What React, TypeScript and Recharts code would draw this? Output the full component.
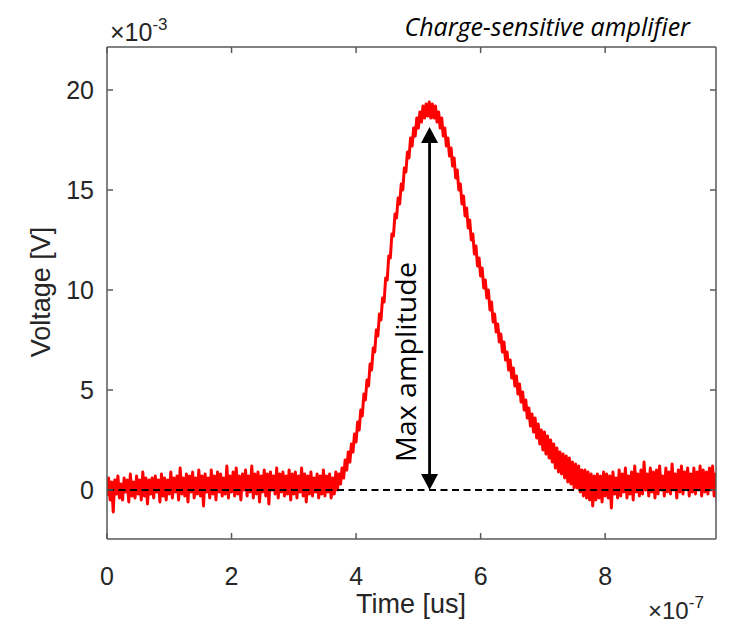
import React from "react";
import {
  LineChart,
  Line,
  XAxis,
  YAxis,
  ReferenceLine,
  ReferenceDot,
} from "recharts";

// time in units of 1e-7 s, voltage in units of 1e-3 V
const T_STEP = 0.025;
const X_TICKS = [0, 2, 4, 6, 8];
const Y_TICKS = [0, 5, 10, 15, 20];
const X_DOMAIN = [0, 9.78];
const Y_DOMAIN = [-2.45, 22.15];

// baseline before the pulse, 0 .. 3.725
const preVoltage = [
  -0.3, 0.6, -0.5, 0.4, -1.1, 0.5, -0.2, 0.7, -0.4, 0.3,
  -0.5, 0.6, -0.1, 0.5, -0.6, 0.8, -0.3, 0.4, -0.4, 0.7,
  -0.2, 0.5, -0.5, 0.9, -0.3, 0.6, -0.7, 0.5, -0.2, 0.6,
  -0.4, 0.7, -0.1, 0.5, -0.6, 0.8, -0.3, 0.6, -0.5, 0.5,
  -0.2, 0.9, -0.4, 0.6, -0.1, 0.7, -0.5, 1.1, -0.2, 0.6,
  -0.3, 0.8, -0.6, 0.7, -0.1, 0.9, -0.4, 0.6, -0.2, 1.0,
  -0.3, 0.7, -0.8, 0.8, -0.1, 0.6, -0.4, 1.0, -0.2, 0.7,
  -0.5, 0.9, -0.1, 0.8, -0.3, 0.6, -0.2, 1.2, -0.4, 0.7,
  -0.1, 0.9, -0.3, 1.1, -0.2, 0.7, -0.5, 0.8, 0.0, 1.0,
  -0.3, 0.7, -0.1, 1.2, -0.4, 0.8, -0.2, 0.9, -0.6, 0.7,
  -0.1, 1.0, -0.3, 0.8, -0.7, 0.9, 0.0, 0.7, -0.2, 1.1,
  -0.4, 0.8, -0.1, 0.9, -0.3, 0.7, -0.2, 1.0, -0.5, 0.8,
  -0.2, 0.9, -0.4, 0.7, -0.1, 1.1, -0.3, 0.8, -0.6, 0.7,
  -0.2, 0.9, -0.3, 0.6, -0.1, 0.8, -0.4, 0.7, -0.2, 1.0,
  -0.3, 0.7, -0.1, 0.8, -0.4, 0.6, -0.2, 0.9, 0.0, 0.8,
];

// the pulse, 3.75 .. 8.0
const pulseVoltage = [
  0.3, 1.1, 0.6, 1.5, 1.0, 1.9, 1.4, 2.3, 1.9, 2.8,
  2.4, 3.4, 3.0, 4.0, 3.7, 4.8, 4.5, 5.5, 5.2, 6.3,
  6.0, 7.1, 6.9, 8.0, 7.7, 8.8, 8.5, 9.6, 9.4, 10.6,
  10.5, 11.7, 11.6, 12.8, 12.7, 13.8, 13.6, 14.6, 14.3, 15.3,
  15.0, 16.1, 15.9, 16.9, 16.6, 17.6, 17.2, 18.1, 17.7, 18.6,
  18.1, 18.9, 18.4, 19.2, 18.6, 19.3, 18.7, 19.4, 18.6, 19.3,
  18.6, 19.2, 18.4, 18.9, 18.1, 18.6, 17.7, 18.1, 17.2, 17.6,
  16.7, 17.1, 16.2, 16.6, 15.6, 16.0, 15.0, 15.3, 14.3, 14.7,
  13.7, 14.1, 13.1, 13.5, 12.5, 12.8, 11.8, 12.2, 11.2, 11.6,
  10.7, 11.1, 10.1, 10.5, 9.6, 10.0, 9.0, 9.4, 8.4, 8.8,
  7.9, 8.3, 7.4, 7.8, 6.9, 7.4, 6.5, 6.9, 6.0, 6.5,
  5.6, 6.1, 5.2, 5.7, 4.8, 5.3, 4.4, 4.9, 4.0, 4.5,
  3.6, 4.1, 3.2, 3.8, 2.9, 3.6, 2.6, 3.3, 2.3, 3.0,
  2.0, 2.9, 1.8, 2.7, 1.6, 2.5, 1.4, 2.3, 1.1, 2.1,
  0.9, 1.9, 0.8, 1.8, 0.6, 1.7, 0.4, 1.6, 0.3, 1.4,
  0.1, 1.3, 0.1, 1.2, -0.1, 1.0, -0.3, 1.0, -0.4, 0.9,
  -0.5, 0.8, -0.8, 0.7, -0.5, 0.8, -0.4, 0.7, -0.6, 0.9,
  -0.3,
];

// baseline after the pulse, 8.025 .. 9.8
const postVoltage = [
  0.8, -0.4, 0.7, -0.9, 0.9, -0.2, 0.6, -0.4,
  1.0, -0.3, 0.8, -0.1, 1.1, -0.4, 0.7, -0.2,
  0.9, -0.5, 1.2, -0.1, 0.8, -0.3, 1.0, -0.2,
  1.4, 0.0, 0.8, -0.3, 1.1, -0.1, 0.9, -0.4,
  1.0, -0.2, 1.2, 0.0, 0.7, -0.3, 1.1, -0.1,
  0.9, -0.2, 1.3, 0.0, 0.8, -0.4, 1.0, -0.1,
  1.2, -0.2, 0.9, 0.1, 1.1, -0.3, 0.8, -0.1,
  1.1, -0.2, 0.9, 0.0, 1.2, -0.3, 1.0, -0.1,
  0.9, -0.2, 1.1, 0.0, 1.2, -0.3, 0.8, -0.6,
];

// arrow marking the max amplitude
const ARROW_X = 5.18;
const ARROW_BOTTOM = 0;
const ARROW_TOP = 18.15;
const ANNOT_X = 4.96;
const ANNOT_Y = 6.4;

const voltage = [...preVoltage, ...pulseVoltage, ...postVoltage];
const data = voltage.map((v, i) => ({ t: +(i * T_STEP).toFixed(3), v }));

const AXIS = "#595959";
const TEXT = "#262626";
const FONT = "'Liberation Sans', Arial, sans-serif";
const TICK_LEN = 6;

const BottomTick = ({ x, y, payload }: any) => (
  <g>
    <line x1={x} y1={y} x2={x} y2={y - TICK_LEN} stroke={AXIS} strokeWidth={1.5} />
    <text x={x} y={y + 46} textAnchor="middle" fontSize={25} fill={TEXT} fontFamily={FONT}>
      {payload.value}
    </text>
  </g>
);

const TopTick = ({ x, y }: any) => (
  <line x1={x} y1={y} x2={x} y2={y + TICK_LEN} stroke={AXIS} strokeWidth={1.5} />
);

const LeftTick = ({ x, y, payload }: any) => (
  <g>
    <line x1={x} y1={y} x2={x + TICK_LEN} y2={y} stroke={AXIS} strokeWidth={1.5} />
    <text x={x - 13} y={y} dy={9} textAnchor="end" fontSize={25} fill={TEXT} fontFamily={FONT}>
      {payload.value}
    </text>
  </g>
);

const RightTick = ({ x, y }: any) => (
  <line x1={x} y1={y} x2={x - TICK_LEN} y2={y} stroke={AXIS} strokeWidth={1.5} />
);

const DoubleArrow = ({ x1, y1, x2, y2 }: any) => {
  const top = Math.min(y1, y2);
  const bot = Math.max(y1, y2);
  const h = 16;
  const w = 8.5;
  return (
    <g>
      <line x1={x1} y1={top + h - 2} x2={x2} y2={bot - h + 2} stroke="#000" strokeWidth={2.8} />
      <polygon points={`${x1},${top} ${x1 - w},${top + h} ${x1 + w},${top + h}`} fill="#000" />
      <polygon points={`${x1},${bot} ${x1 - w},${bot - h} ${x1 + w},${bot - h}`} fill="#000" />
    </g>
  );
};

const AnnotText = ({ cx, cy }: any) => (
  <text
    x={cx}
    y={cy}
    transform={`rotate(-90 ${cx} ${cy})`}
    textAnchor="middle"
    fontSize={27}
    fontFamily="'Open Sans', sans-serif"
    fill="#000"
    textLength={200}
    lengthAdjust="spacingAndGlyphs"
  >
    Max amplitude
  </text>
);

export default function App() {
  return (
    <div style={{ position: "relative", width: 735, height: 616, background: "#fff" }}>
      <LineChart
        width={735}
        height={616}
        data={data}
        margin={{ top: 38, right: 26, bottom: 25, left: 39 }}
      >
        <XAxis
          dataKey="t"
          type="number"
          domain={X_DOMAIN}
          ticks={X_TICKS}
          allowDataOverflow
          height={60}
          tickSize={0}
          tickMargin={0}
          tick={<BottomTick />}
          axisLine={{ stroke: AXIS, strokeWidth: 1.5 }}
        />
        <XAxis
          xAxisId="top"
          orientation="top"
          dataKey="t"
          type="number"
          domain={X_DOMAIN}
          ticks={X_TICKS}
          allowDataOverflow
          height={1}
          tickSize={0}
          tickMargin={0}
          tick={<TopTick />}
          axisLine={{ stroke: AXIS, strokeWidth: 1.5 }}
        />
        <YAxis
          type="number"
          domain={Y_DOMAIN}
          ticks={Y_TICKS}
          allowDataOverflow
          width={60}
          tickSize={0}
          tickMargin={0}
          tick={<LeftTick />}
          axisLine={{ stroke: AXIS, strokeWidth: 1.5 }}
        />
        <YAxis
          yAxisId="right"
          orientation="right"
          type="number"
          domain={Y_DOMAIN}
          ticks={Y_TICKS}
          allowDataOverflow
          width={1}
          tickSize={0}
          tickMargin={0}
          tick={<RightTick />}
          axisLine={{ stroke: AXIS, strokeWidth: 1.5 }}
        />
        <Line
          dataKey="v"
          stroke="#ff0000"
          strokeWidth={3}
          strokeLinejoin="round"
          dot={false}
          isAnimationActive={false}
        />
        <Line
          dataKey="v"
          xAxisId="top"
          yAxisId="right"
          stroke="none"
          dot={false}
          activeDot={false}
          isAnimationActive={false}
        />
        <ReferenceLine
          y={0}
          stroke="#000"
          strokeWidth={2}
          strokeDasharray="7 4.5"
        />
        <ReferenceLine
          segment={[
            { x: ARROW_X, y: ARROW_BOTTOM },
            { x: ARROW_X, y: ARROW_TOP },
          ]}
          shape={<DoubleArrow />}
        />
        <ReferenceDot x={ANNOT_X} y={ANNOT_Y} r={0} shape={<AnnotText />} />
      </LineChart>
      <svg
        width={735}
        height={616}
        style={{ position: "absolute", left: 0, top: 0, pointerEvents: "none" }}
      >
        <text
          x={682}
          y={28}
          textAnchor="end"
          fontSize={25}
          fontStyle="italic"
          fontFamily="'Open Sans', sans-serif"
          fill="#000"
        >
          Charge-sensitive amplifier
        </text>
        <text x={102} y={33} fontSize={25} fill={TEXT} fontFamily={FONT}>
          ×10
          <tspan fontSize={17} dy={-11}>-3</tspan>
        </text>
        <text x={640} y={611} fontSize={24} fill={TEXT} fontFamily={FONT}>
          ×10
          <tspan fontSize={17} dy={-11}>-7</tspan>
        </text>
        <text x={403} y={605} textAnchor="middle" fontSize={27} fill={TEXT} fontFamily={FONT}>
          Time [us]
        </text>
        <text
          x={42}
          y={284}
          transform="rotate(-90 42 284)"
          textAnchor="middle"
          fontSize={27}
          fill={TEXT}
          fontFamily={FONT}
        >
          Voltage [V]
        </text>
      </svg>
    </div>
  );
}
